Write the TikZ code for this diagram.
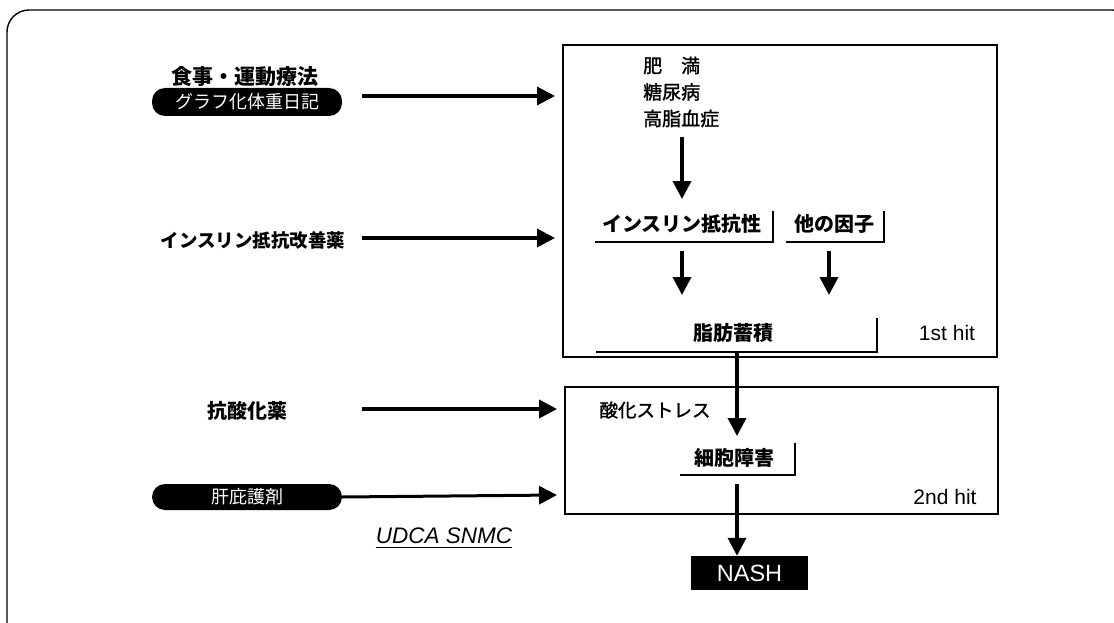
\documentclass[tikz,border=0pt]{standalone}
\usepackage{fontspec}
\setmainfont{Liberation Sans}
\newfontfamily\jp{Noto Sans CJK JP}
\newfontfamily\jpm[FakeBold=1.4]{Noto Sans CJK JP}
\usetikzlibrary{arrows.meta}
\begin{document}
\begin{tikzpicture}[x=1pt,y=-1pt,
  lbl/.style={font=\jp\bfseries\fontsize{20}{24}\selectfont, inner sep=0pt},
  lbls/.style={font=\jp\bfseries\fontsize{18.5}{22}\selectfont, inner sep=0pt},
  pill/.style={fill=black, text=white, rounded corners=13pt, minimum width=190pt, minimum height=28pt, inner sep=0pt, font=\jp\fontsize{18}{22}\selectfont},
  bigarrow/.style={line width=3.6pt, -{Triangle[length=18pt,width=18pt]}},
  boxline/.style={line width=1.3pt},
  bracket/.style={line width=1.9pt},
  latin/.style={font=\fontsize{21}{24}\selectfont, inner sep=0pt}]
\useasboundingbox (0,0) rectangle (1114,623);
\clip (0,0) rectangle (1114,623);
% outer frame
\draw[line width=1.4pt, rounded corners=22pt] (7,10) rectangle (1135,645);

% left column
\node[lbl, font=\jp\bfseries\fontsize{21}{24}\selectfont] (diet) at (245,77) {食事・運動療法};
\node[pill] (graph) at (247,102) {グラフ化体重日記};
\node[lbls] (insdrug) at (253,240) {インスリン抵抗改善薬};
\node[lbl] (antiox) at (247,411) {抗酸化薬};
\node[pill, minimum height=26pt] (liver) at (247,497) {肝庇護剤};
\node[font=\itshape\fontsize{22.5}{26}\selectfont, inner sep=0pt] (udca) at (444,536) {UDCA SNMC};
\draw[line width=1.2pt] ([yshift=-3pt]udca.south west) -- ([yshift=-3pt]udca.south east);

% boxes
\draw[boxline] (563,45) rectangle (997,357);
\draw[boxline] (565,387) rectangle (998,514);

% box 1 content
\node[lbl, anchor=west, align=left, font=\jpm\fontsize{19}{26.5}\selectfont] (risk) at (643,92) {肥　満\\糖尿病\\高脂血症};
\node[lbl] (ir) at (682,224) {インスリン抵抗性};
\node[lbl] (other) at (834,224) {他の因子};
\node[lbl] (fat) at (733,333) {脂肪蓄積};
\node[latin] (hit1) at (947,333) {1st hit};

\draw[bracket] (595,242) -- (773,242) -- (773,211);
\draw[bracket] (786,242) -- (884,242) -- (884,211);
\draw[bracket] (596,352) -- (877,352) -- (877,318);

% box 2 content
\node[lbls, font=\jpm\fontsize{18.5}{22}\selectfont] (ox) at (655,410) {酸化ストレス};
\node[lbl] (cell) at (734,458) {細胞障害};
\node[latin] (hit2) at (945,497) {2nd hit};
\draw[bracket] (680,475) -- (795,475) -- (795,443);

% NASH
\node[fill=black, text=white, minimum width=117pt, minimum height=34pt, inner sep=0pt, font=\fontsize{23.5}{26}\selectfont] (nash) at (749.5,573) {NASH};

% arrow coordinates
\coordinate (a1s) at (362,96);  \coordinate (a1e) at (555,96);
\coordinate (a2s) at (362,238); \coordinate (a2e) at (555,238);
\coordinate (a3s) at (362,409); \coordinate (a3e) at (557,409);
\coordinate (a4s) at (liver.east); \coordinate (a4e) at (557,495);
\coordinate (r1) at (682,137);  \coordinate (r2) at (682,199);
\coordinate (i1) at (682,251);  \coordinate (i2) at (682,295);
\coordinate (o1) at (829,251);  \coordinate (o2) at (829,295);
\coordinate (f1) at (737,352);  \coordinate (f2) at (737,436);
\coordinate (c1) at (737,484);

\draw[bigarrow] (a1s) -- (a1e);
\draw[bigarrow] (a2s) -- (a2e);
\draw[bigarrow] (a3s) -- (a3e);
\draw[bigarrow, line width=3pt] (a4s) -- (a4e);
\draw[bigarrow] (r1) -- (r2);
\draw[bigarrow] (i1) -- (i2);
\draw[bigarrow] (o1) -- (o2);
\draw[bigarrow] (f1) -- (f2);
\draw[bigarrow] (c1) -- (c1 |- nash.north);
\end{tikzpicture}
\end{document}
